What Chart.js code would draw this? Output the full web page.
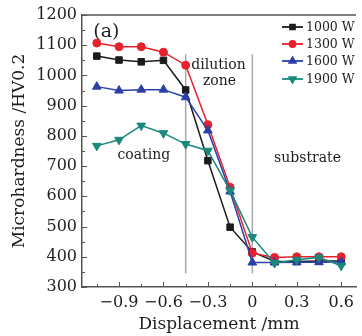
<!DOCTYPE html>
<html>
<head>
<meta charset="utf-8">
<script src="https://cdn.jsdelivr.net/npm/chart.js@4.4.1/dist/chart.umd.min.js"></script>
<style>
  html, body { margin: 0; padding: 0; background: #fff; }
  #wrap { width: 362px; height: 336px; }
</style>
</head>
<body>
<div id="wrap"><canvas id="hvChart" width="362" height="336"></canvas></div>
<script>
// displacement of each measuring point (mm)
const displacement = [-1.05, -0.9, -0.75, -0.6, -0.45, -0.3, -0.15, 0, 0.15, 0.3, 0.45, 0.6];

// microhardness HV0.2 for each laser power
const hv1000 = [1064, 1051, 1045, 1050, 952, 718, 498, 416, 385, 384, 386, 386];
const hv1300 = [1107, 1095, 1095, 1077, 1034, 837, 630, 412, 398, 400, 400, 400];
const hv1600 = [963, 950, 953, 953, 928, 818, 616, 381, 381, 382, 382, 383];
const hv1900 = [767, 787, 834, 809, 773, 751, 619, 465, 379, 390, 398, 370];

const powerLabels = ['1000 W', '1300 W', '1600 W', '1900 W'];

const xTicks = [-0.9, -0.6, -0.3, 0, 0.3, 0.6];
const yTicks = [300, 400, 500, 600, 700, 800, 900, 1000, 1100, 1200];

// zone boundaries (mm) and the hardness range the guide lines cover
const zoneBounds = [-0.45, 0];
const boundRange = [345, 1070];

const SERIF = '"DejaVu Serif", "Liberation Serif", serif';
const INK = '#1e1e1e';

function pts(ys) {
    return ys.map((y, i) => ({ x: displacement[i], y: y }));
}

function series(label, ys, color, style, radius, rot, order) {
    return {
        label: label,
        data: pts(ys),
        borderColor: color,
        backgroundColor: color,
        borderWidth: 1.5,
        pointStyle: style,
        pointRadius: radius,
        pointRotation: rot,
        pointBorderWidth: 1,
        tension: 0,
        order: order
    };
}

const datasets = [
    series(powerLabels[0], hv1000, '#1c1c1c', 'rect', 4.6, 0, 4),
    series(powerLabels[1], hv1300, '#e8222c', 'circle', 4, 0, 3),
    series(powerLabels[2], hv1600, '#2a40a8', 'triangle', 5, 0, 2),
    series(powerLabels[3], hv1900, '#19897c', 'triangle', 5, 180, 1)
];

zoneBounds.forEach(b => {
    datasets.push({
        label: '',
        isGuide: true,
        data: [{ x: b, y: boundRange[0] }, { x: b, y: boundRange[1] }],
        borderColor: '#a8a8a8',
        borderWidth: 1.5,
        pointRadius: 0,
        order: 10
    });
});

// text written inside the plot, placed in data units
const notes = [
    { text: '(a)', x: -0.985, y: 1143, size: 19 },
    { text: 'dilution', x: -0.228, y: 1035, size: 14 },
    { text: 'zone', x: -0.222, y: 982, size: 14 },
    { text: 'coating', x: -0.733, y: 737, size: 14 },
    { text: 'substrate', x: 0.373, y: 727, size: 14 }
];

const framePlugin = {
    id: 'frame',
    afterDatasetsDraw(chart) {
        const { ctx, chartArea: a, scales: { x, y } } = chart;
        ctx.save();
        // top border of the frame
        ctx.strokeStyle = '#555';
        ctx.lineWidth = 1.5;
        ctx.beginPath();
        ctx.moveTo(a.left, a.top);
        ctx.lineTo(a.right, a.top);
        ctx.stroke();

        // inward ticks, major + minor
        ctx.lineWidth = 1;
        for (let v = 300; v <= 1200; v += 50) {
            const py = Math.round(y.getPixelForValue(v)) + 0.5;
            const len = v % 100 === 0 ? 5 : 3;
            ctx.beginPath();
            ctx.moveTo(a.left, py);
            ctx.lineTo(a.left + len, py);
            ctx.stroke();
        }
        for (let k = -7; k <= 4; k++) {
            const v = k * 0.15;
            const px = Math.round(x.getPixelForValue(v)) + 0.5;
            const len = k % 2 === 0 ? 5 : 3;
            ctx.beginPath();
            ctx.moveTo(px, a.bottom);
            ctx.lineTo(px, a.bottom - len);
            ctx.stroke();
        }

        // notes
        ctx.fillStyle = INK;
        ctx.textAlign = 'center';
        ctx.textBaseline = 'middle';
        notes.forEach(n => {
            ctx.font = n.size + 'px ' + SERIF;
            ctx.fillText(n.text, x.getPixelForValue(n.x), y.getPixelForValue(n.y));
        });

        // legend: line with marker
        const rows = [27, 44, 61, 79];
        ctx.font = '12.5px ' + SERIF;
        ctx.textAlign = 'left';
        chart.data.datasets.filter(d => !d.isGuide).forEach((d, i) => {
            const ly = rows[i];
            ctx.strokeStyle = d.borderColor;
            ctx.lineWidth = 1.8;
            ctx.beginPath();
            ctx.moveTo(282, ly);
            ctx.lineTo(303, ly);
            ctx.stroke();
            ctx.fillStyle = d.backgroundColor;
            Chart.helpers.drawPoint(ctx, {
                pointStyle: d.pointStyle,
                radius: d.pointRadius * 0.75,
                rotation: d.pointRotation,
                borderWidth: 1
            }, 292.5, ly);
            ctx.fillStyle = INK;
            ctx.fillText(d.label, 306, ly + 1);
        });
        ctx.restore();
    }
};

new Chart(document.getElementById('hvChart'), {
    type: 'line',
    data: { datasets: datasets },
    options: {
        responsive: false,
        animation: false,
        layout: { padding: { top: 15, right: 0, left: 0, bottom: 0 } },
        plugins: {
            legend: { display: false },
            tooltip: { enabled: false }
        },
        scales: {
            x: {
                type: 'linear',
                min: -1.15,
                max: 0.7,
                afterBuildTicks: s => { s.ticks = xTicks.map(v => ({ value: v })); },
                afterFit: s => { s.height = 49; },
                grid: { drawOnChartArea: false, drawTicks: false },
                border: { color: '#555', width: 1.5 },
                ticks: {
                    autoSkip: false,
                    maxRotation: 0,
                    padding: 6,
                    color: INK,
                    font: { family: SERIF, size: 16 },
                    callback: v => v === 0 ? '0' : (v < 0 ? '\u2212' : '') + Math.abs(v).toFixed(1)
                },
                title: {
                    display: true,
                    text: 'Displacement /mm',
                    color: INK,
                    font: { family: SERIF, size: 17, lineHeight: 1.2 },
                    padding: { top: 0, bottom: 1 }
                }
            },
            y: {
                min: 300,
                max: 1200,
                afterBuildTicks: s => { s.ticks = yTicks.map(v => ({ value: v })); },
                afterFit: s => { s.width = 82; },
                grid: { drawOnChartArea: false, drawTicks: false },
                border: { color: '#555', width: 1.5 },
                ticks: {
                    padding: 5,
                    color: INK,
                    font: { family: SERIF, size: 16 },
                    callback: v => String(v)
                },
                title: {
                    display: true,
                    text: 'Microhardness /HV0.2',
                    color: INK,
                    font: { family: SERIF, size: 17, lineHeight: 1.2 },
                    padding: { top: 9, bottom: 0 }
                }
            }
        }
    },
    plugins: [framePlugin]
});
</script>
</body>
</html>
